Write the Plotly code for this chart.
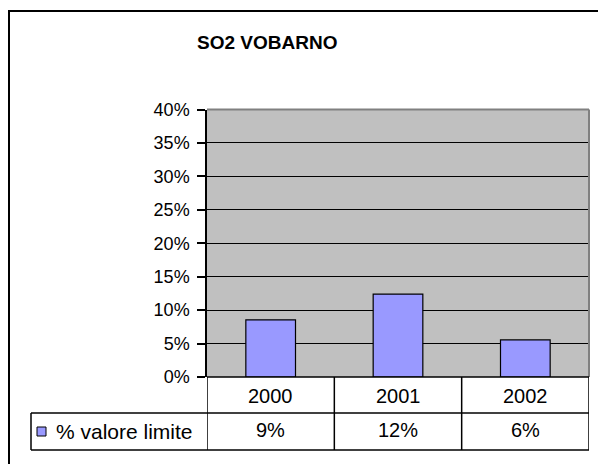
import plotly.graph_objects as go

# ---- data ----
years = ["2000", "2001", "2002"]
values = [0.0855, 0.124, 0.0555]
series_name = "% valore limite"
title_text = "SO2 VOBARNO"
value_labels = [f"{v*100:.0f}%" for v in values]

W, H = 606, 464
OFF = 8  # page body margin: the figure is drawn 8px right/down of the window corner
FONT = "Liberation Sans, Arial, sans-serif"

def px(x):
    return (x - OFF) / W

def py(y):
    return 1 - (y - OFF) / H

# plot area, in window pixels
L, R, T, B = 207, 589, 109.5, 377
ROW1, ROW2 = 413, 450
LEG_L = 31

fig = go.Figure()
fig.add_trace(go.Bar(
    x=years, y=values, width=0.39,
    marker=dict(color="#9999FF", line=dict(color="black", width=1.2)),
    name=series_name, showlegend=False,
))

shapes = []
# outer chart border (extends past the window on the right/bottom)
shapes.append(dict(type="rect", xref="paper", yref="paper",
                   x0=px(9), x1=px(W + 20), y0=py(H + 20), y1=py(11),
                   line=dict(color="black", width=2), layer="below"))
# plot area gray border top and right
shapes.append(dict(type="line", xref="paper", yref="paper",
                   x0=px(L), x1=px(R), y0=py(T), y1=py(T),
                   line=dict(color="#808080", width=2)))
shapes.append(dict(type="line", xref="paper", yref="paper",
                   x0=px(R), x1=px(R), y0=py(T), y1=py(B),
                   line=dict(color="#808080", width=2)))
# data table horizontal lines
for yy in (ROW1, ROW2):
    shapes.append(dict(type="line", xref="paper", yref="paper",
                       x0=px(LEG_L), x1=px(R), y0=py(yy), y1=py(yy),
                       line=dict(color="black", width=1.5)))
shapes.append(dict(type="line", xref="paper", yref="paper",
                   x0=px(L), x1=px(R), y0=py(B), y1=py(B),
                   line=dict(color="black", width=1.5)))
# legend cell left edge
shapes.append(dict(type="line", xref="paper", yref="paper",
                   x0=px(LEG_L), x1=px(LEG_L), y0=py(ROW1), y1=py(ROW2),
                   line=dict(color="black", width=1.5)))
# vertical column lines at category boundaries
for xb in [-0.5, 0.5, 1.5, 2.5]:
    shapes.append(dict(type="line", xref="x", yref="paper",
                       x0=xb, x1=xb, y0=py(ROW2), y1=py(B),
                       line=dict(color="black", width=1.5)))
# legend key
shapes.append(dict(type="rect", xref="paper", yref="paper",
                   x0=px(37), x1=px(46), y0=py(436), y1=py(427),
                   fillcolor="#9999FF", line=dict(color="black", width=1)))

annotations = []
annotations.append(dict(text=f"<b>{title_text}</b>", xref="paper", yref="paper",
                        x=px(267), y=py(42), showarrow=False,
                        font=dict(family=FONT, size=19, color="black"),
                        xanchor="center", yanchor="middle"))
for i, (yr, lab) in enumerate(zip(years, value_labels)):
    annotations.append(dict(text=yr, xref="x", yref="paper", x=i, y=py(396),
                            showarrow=False, xanchor="center", yanchor="middle",
                            font=dict(family=FONT, size=20, color="black")))
    annotations.append(dict(text=lab, xref="x", yref="paper", x=i, y=py(430),
                            showarrow=False, xanchor="center", yanchor="middle",
                            font=dict(family=FONT, size=20, color="black")))
annotations.append(dict(text=series_name, xref="paper", yref="paper",
                        x=px(54), y=py(431), showarrow=False,
                        xanchor="left", yanchor="middle",
                        font=dict(family=FONT, size=21, color="black")))

fig.update_layout(
    width=W, height=H,
    margin=dict(l=0, r=0, t=0, b=0),
    paper_bgcolor="white",
    plot_bgcolor="#C0C0C0",
    xaxis=dict(domain=[px(L), px(R)], range=[-0.5, 2.5], type="category",
               showticklabels=False, ticks="", showgrid=False, zeroline=False,
               showline=False, fixedrange=True),
    yaxis=dict(domain=[py(B), py(T)], range=[0, 0.4], dtick=0.05,
               tickformat=".0%", ticks="outside", ticklen=8, tickwidth=1.5,
               tickcolor="black", showgrid=True, gridcolor="black", gridwidth=1.2,
               showline=True, linecolor="black", linewidth=1.5, zeroline=False,
               tickfont=dict(family=FONT, size=18, color="black"),
               ticklabelstandoff=4, automargin=False, fixedrange=True),
    shapes=shapes,
    annotations=annotations,
    showlegend=False,
)

fig.write_html("out.html")
